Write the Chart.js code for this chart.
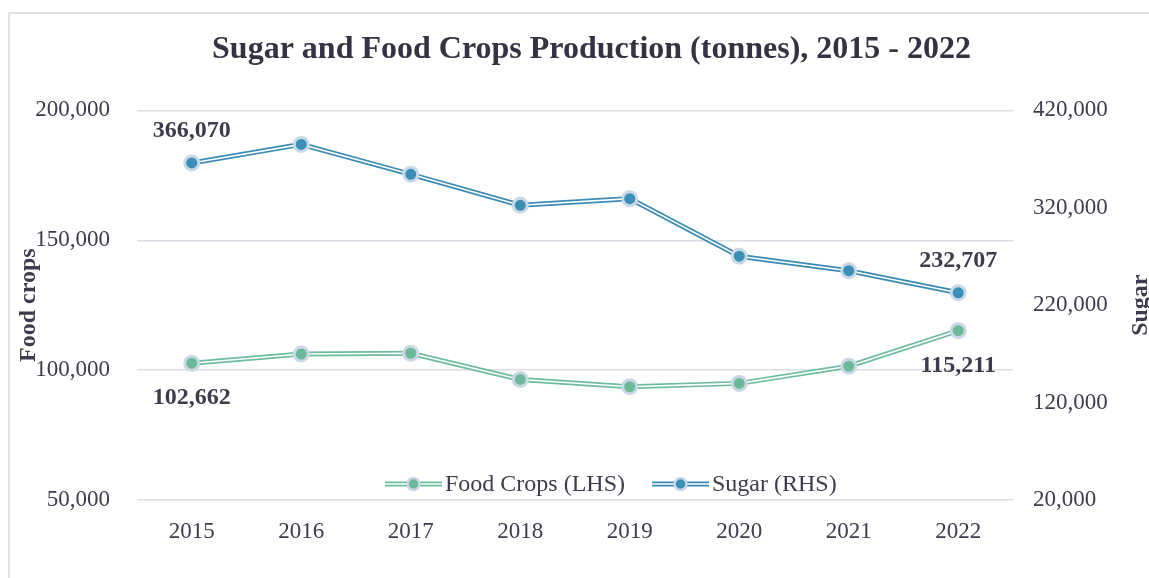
<!DOCTYPE html>
<html>
<head>
<meta charset="utf-8">
<title>Sugar and Food Crops Production (tonnes), 2015 - 2022</title>
<script src="https://cdn.jsdelivr.net/npm/chart.js@4.4.1/dist/chart.umd.min.js"></script>
<style>
    html, body { margin: 0; padding: 0; background: #fff; }
    .wrap { position: relative; width: 1149px; height: 578px; overflow: hidden; }
    .frame { position: absolute; left: 8px; top: 12px; width: 1300px; height: 700px;
             border-left: 2px solid #dedee7; border-top: 2px solid #dedee7; }
    canvas { position: absolute; left: 0; top: 0; }
</style>
</head>
<body>
<div class="wrap">
    <div class="frame"></div>
    <canvas id="cropsChart"></canvas>
</div>
<script>
/* ===========================
   DATA
   =========================== */
const years = ['2015', '2016', '2017', '2018', '2019', '2020', '2021', '2022'];
const foodCrops = [102662, 106200, 106500, 96400, 93600, 94900, 101500, 115211];
const sugar = [366070, 385100, 354400, 322600, 329400, 270300, 255400, 232707];
const leftTicks = [50000, 100000, 150000, 200000];
const rightTicks = [20000, 120000, 220000, 320000, 420000];
const labelledPoints = [0, 7]; // first and last year carry value labels

const FONT = '"Liberation Serif", "Times New Roman", serif';
const TEXT = '#3c3c4e';
const GRID = '#dcdce6';
const SUGAR_LINE = '#3a8cb4';
const SUGAR_DOT = '#3b8fb6';
const FOOD_LINE = '#6dbd9b';
const FOOD_DOT = '#6cb99a';
const DOT_RING = '#c9d7e6';

const fmt = v => v.toLocaleString('en-US');

// each series is drawn as an Excel-style double line: thick colour, thin white core, dots on top
function seriesSets(label, data, axis, line, dot, baseOrder) {
    return [
        { label: label, data: data, yAxisID: axis, borderColor: line, borderWidth: 5,
          pointRadius: 0, order: baseOrder + 4 },
        { label: label + ' core', data: data, yAxisID: axis, borderColor: '#ffffff', borderWidth: 1.6,
          pointRadius: 0, order: baseOrder + 2 },
        { label: label + ' dots', data: data, yAxisID: axis, showLine: false,
          pointRadius: 7, pointBackgroundColor: dot, pointBorderColor: DOT_RING, pointBorderWidth: 3,
          order: baseOrder }
    ];
}

const legendItems = [
    { text: 'Food Crops (LHS)', line: FOOD_LINE, dot: FOOD_DOT },
    { text: 'Sugar (RHS)', line: SUGAR_LINE, dot: SUGAR_DOT }
];

const extrasPlugin = {
    id: 'extras',
    afterLayout(chart) {
        // title sits a little right of the canvas centre in the original
        chart.titleBlock.left += 17;
        chart.titleBlock.right += 17;
    },
    afterDatasetsDraw(chart) {
        const ctx = chart.ctx;
        const area = chart.chartArea;
        const xs = chart.scales.x, yL = chart.scales.y, yR = chart.scales.y2;
        ctx.save();

        // value labels
        ctx.font = 'bold 24px ' + FONT;
        ctx.fillStyle = TEXT;
        ctx.textAlign = 'center';
        ctx.textBaseline = 'middle';
        labelledPoints.forEach(i => {
            const px = xs.getPixelForValue(i);
            ctx.fillText(fmt(sugar[i]), px, yR.getPixelForValue(sugar[i]) - 32);
            ctx.fillText(fmt(foodCrops[i]), px, yL.getPixelForValue(foodCrops[i]) + 35);
        });

        // right axis title, reading bottom to top
        ctx.save();
        ctx.font = 'bold 24px ' + FONT;
        ctx.translate(chart.width - 8, (area.top + area.bottom) / 2);
        ctx.rotate(-Math.PI / 2);
        ctx.fillText('Sugar', 0, 0);
        ctx.restore();

        // legend inside the plot
        ctx.font = '24px ' + FONT;
        ctx.textAlign = 'left';
        let lx = area.left + 248;
        const ly = area.bottom - 16;
        legendItems.forEach(item => {
            ctx.lineWidth = 5;
            ctx.strokeStyle = item.line;
            ctx.beginPath(); ctx.moveTo(lx, ly); ctx.lineTo(lx + 57, ly); ctx.stroke();
            ctx.lineWidth = 1.6;
            ctx.strokeStyle = '#ffffff';
            ctx.beginPath(); ctx.moveTo(lx, ly); ctx.lineTo(lx + 57, ly); ctx.stroke();
            ctx.beginPath();
            ctx.arc(lx + 28.5, ly, 6, 0, Math.PI * 2);
            ctx.fillStyle = item.dot; ctx.fill();
            ctx.lineWidth = 2.5; ctx.strokeStyle = DOT_RING; ctx.stroke();
            ctx.fillStyle = TEXT;
            ctx.fillText(item.text, lx + 60, ly + 1);
            lx += 60 + ctx.measureText(item.text).width + 27;
        });
        ctx.restore();
    }
};

let charts = {};

document.addEventListener('DOMContentLoaded', () => {
    renderChart();
});

function renderChart() {
    const canvas = document.getElementById('cropsChart');
    canvas.width = 1149;
    canvas.height = 578;

    charts.crops = new Chart(canvas, {
        type: 'line',
        data: {
            labels: years,
            datasets: [
                ...seriesSets('Food Crops (LHS)', foodCrops, 'y', FOOD_LINE, FOOD_DOT, 1),
                ...seriesSets('Sugar (RHS)', sugar, 'y2', SUGAR_LINE, SUGAR_DOT, 0)
            ]
        },
        options: {
            responsive: false,
            animation: false,
            layout: { padding: 0 },
            plugins: {
                legend: { display: false },
                tooltip: { enabled: false },
                title: {
                    display: true,
                    text: 'Sugar and Food Crops Production (tonnes), 2015 - 2022',
                    color: '#333344',
                    font: { family: FONT, size: 32, weight: 'bold', lineHeight: 1.2 },
                    padding: { top: 31, bottom: 41 }
                }
            },
            scales: {
                x: {
                    offset: true,
                    grid: { display: false, drawTicks: false },
                    border: { display: false },
                    ticks: { color: TEXT, font: { family: FONT, size: 23 }, padding: 18, maxRotation: 0 },
                    afterFit: s => { s.height = 78; }
                },
                y: {
                    position: 'left',
                    min: 50000,
                    max: 200000,
                    afterBuildTicks: s => { s.ticks = leftTicks.map(v => ({ value: v })); },
                    grid: { color: GRID, lineWidth: 1.5, drawTicks: false },
                    border: { display: false },
                    ticks: { color: TEXT, font: { family: FONT, size: 23 }, padding: 27,
                             callback: v => fmt(v) },
                    title: { display: true, text: 'Food crops', color: TEXT,
                             font: { family: FONT, size: 24, weight: 'bold', lineHeight: 1.2 },
                             padding: { top: 14, bottom: 0 } },
                    afterFit: s => { s.width = 137; }
                },
                y2: {
                    position: 'right',
                    min: 20000,
                    max: 420000,
                    afterBuildTicks: s => { s.ticks = rightTicks.map(v => ({ value: v })); },
                    grid: { drawOnChartArea: false, drawTicks: false },
                    border: { display: false },
                    ticks: { color: TEXT, font: { family: FONT, size: 23 }, padding: 20,
                             callback: v => fmt(v) },
                    afterFit: s => { s.width = 136; }
                }
            }
        },
        plugins: [extrasPlugin]
    });
}
</script>
</body>
</html>
